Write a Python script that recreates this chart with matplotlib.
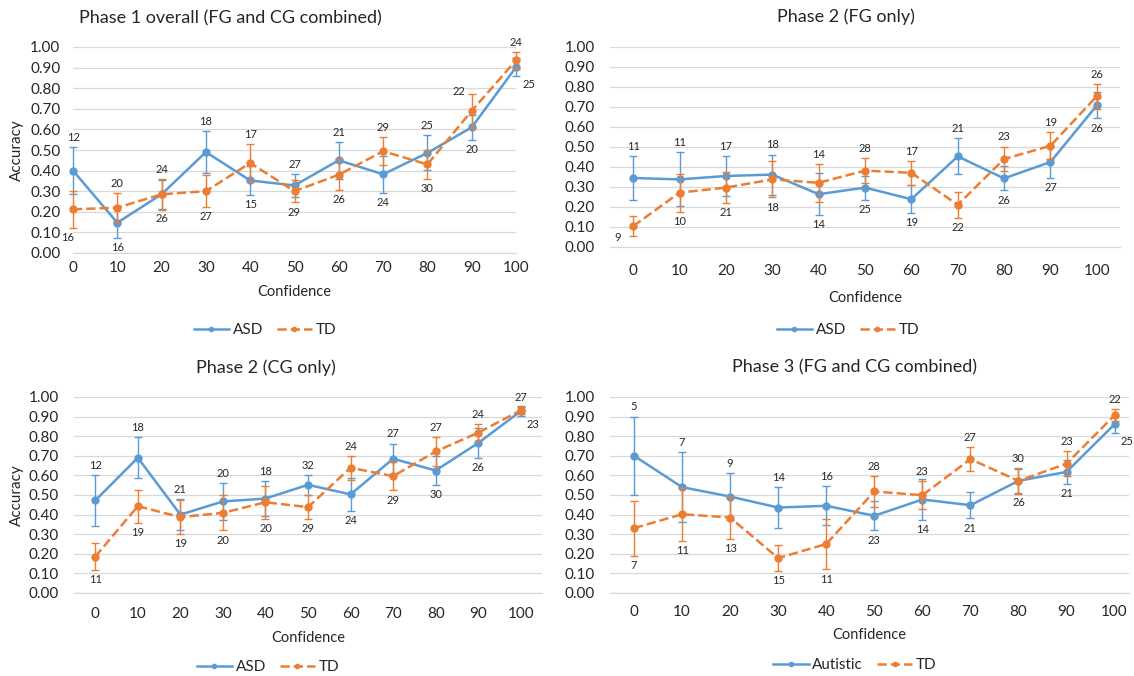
import matplotlib
matplotlib.use("Agg")
import matplotlib.pyplot as plt
from matplotlib.lines import Line2D

plt.rcParams['font.family'] = ['Lato', 'DejaVu Sans']

confidence = [0, 10, 20, 30, 40, 50, 60, 70, 80, 90, 100]
xtick_labels = ["0", "10", "20", "30", "40", "50", "60", "70", "80", "90", "100"]

# Panel 1: Phase 1 overall
p1_asd = [0.40, 0.147, 0.285, 0.49, 0.352, 0.328, 0.45, 0.382, 0.486, 0.61, 0.902]
p1_asd_err = [0.115, 0.075, 0.07, 0.10, 0.07, 0.055, 0.09, 0.09, 0.085, 0.06, 0.045]
p1_asd_n = ["12", "16", "26", "18", "15", "27", "21", "24", "25", "20", "25"]
p1_td = [0.212, 0.22, 0.285, 0.30, 0.437, 0.30, 0.38, 0.494, 0.43, 0.69, 0.935]
p1_td_err = [0.09, 0.07, 0.075, 0.077, 0.09, 0.054, 0.075, 0.068, 0.07, 0.082, 0.04]
p1_td_n = ["16", "20", "24", "27", "17", "29", "26", "29", "30", "22", "24"]

# Panel 2: Phase 2 FG only
p2_asd = [0.345, 0.338, 0.355, 0.362, 0.264, 0.297, 0.239, 0.453, 0.343, 0.425, 0.708]
p2_asd_err = [0.11, 0.135, 0.10, 0.10, 0.105, 0.06, 0.07, 0.09, 0.06, 0.08, 0.065]
p2_asd_n = ["11", "11", "17", "18", "14", "25", "19", "21", "26", "27", "26"]
p2_td = [0.104, 0.272, 0.297, 0.338, 0.321, 0.382, 0.371, 0.211, 0.44, 0.506, 0.754]
p2_td_err = [0.05, 0.095, 0.078, 0.09, 0.095, 0.063, 0.06, 0.064, 0.062, 0.068, 0.062]
p2_td_n = ["9", "10", "21", "18", "14", "28", "17", "22", "23", "19", "26"]

# Panel 3: Phase 2 CG only
p3_asd = [0.472, 0.69, 0.40, 0.467, 0.482, 0.552, 0.503, 0.685, 0.625, 0.765, 0.928]
p3_asd_err = [0.128, 0.105, 0.08, 0.095, 0.09, 0.05, 0.085, 0.077, 0.075, 0.077, 0.025]
p3_asd_n = ["12", "18", "21", "20", "18", "32", "24", "27", "30", "26", "23"]
p3_td = [0.186, 0.443, 0.387, 0.409, 0.463, 0.438, 0.639, 0.596, 0.722, 0.818, 0.932]
p3_td_err = [0.07, 0.085, 0.085, 0.09, 0.085, 0.06, 0.06, 0.073, 0.075, 0.042, 0.017]
p3_td_n = ["11", "19", "19", "20", "20", "29", "24", "29", "27", "24", "27"]

# Panel 4: Phase 3 overall
p4_aut = [0.70, 0.54, 0.492, 0.436, 0.445, 0.394, 0.477, 0.448, 0.572, 0.618, 0.861]
p4_aut_err = [0.20, 0.177, 0.12, 0.105, 0.10, 0.075, 0.105, 0.067, 0.06, 0.063, 0.043]
p4_aut_n = ["5", "7", "9", "14", "16", "23", "14", "21", "26", "21", "25"]
p4_td = [0.331, 0.402, 0.385, 0.178, 0.25, 0.518, 0.499, 0.683, 0.572, 0.66, 0.907]
p4_td_err = [0.14, 0.135, 0.11, 0.066, 0.13, 0.078, 0.07, 0.06, 0.066, 0.062, 0.03]
p4_td_n = ["7", "11", "13", "15", "11", "28", "23", "27", "30", "23", "22"]

BLUE = "#5B9BD5"
ORANGE = "#ED7D31"
GRID = "#D9D9D9"
TXT = "#262626"

W, H = 1134, 676
fig = plt.figure(figsize=(W / 100, H / 100), dpi=100)


def fx(px):
    return px / W


def fy(py):
    return 1 - py / H


OFFS = {
    'a': (0, 7, 1), 'b': (0, -7, -1), 'r': (9, -6, -1),
    'l': (-4, -7, -1), 'L': (-11, -1, -1), 'al': (-9, 2, 1),
}


def panel(rect, xlim, title, title_xy, names, series, errs, counts, places,
          xlab_y, legend_xy, tick_pad, ypad, ylabel=False):
    l, r, t, b = rect
    ax = fig.add_axes([fx(l), fy(b), fx(r - l), (b - t) / H])
    ax.set_xlim(*xlim)
    ax.set_ylim(0, 1.0)
    ax.set_yticks([i / 10 for i in range(11)])
    ax.set_yticklabels([f"{i / 10:.2f}" for i in range(11)], fontsize=11, color=TXT)
    ax.set_xticks(confidence)
    ax.set_xticklabels(xtick_labels, fontsize=11, color=TXT)
    ax.tick_params(axis='both', length=0)
    ax.tick_params(axis='x', pad=tick_pad)
    ax.tick_params(axis='y', pad=ypad)
    ax.grid(axis='y', color=GRID, linewidth=0.9)
    ax.set_axisbelow(True)
    for s in ['top', 'right', 'left']:
        ax.spines[s].set_visible(False)
    ax.spines['bottom'].set_color(GRID)
    ax.spines['bottom'].set_linewidth(0.9)
    colors = [BLUE, ORANGE]
    styles = ['-', '--']
    handles = []
    for k in range(2):
        ax.errorbar(confidence, series[k], yerr=errs[k], color=colors[k],
                    linestyle=styles[k], linewidth=1.8, marker='o', markersize=5,
                    ecolor=colors[k], elinewidth=1.0, capsize=3, capthick=1.0,
                    zorder=3 + k, clip_on=False)
        for i, (xv, yv, ev, n) in enumerate(zip(confidence, series[k], errs[k], counts[k])):
            dx, dy, sgn = OFFS[places[k][i]]
            yend = yv + sgn * ev
            ax.annotate(n, (xv, yend), xytext=(dx, dy), textcoords='offset points',
                        ha='center', va='center', fontsize=8, color=TXT,
                        annotation_clip=False, zorder=6)
        handles.append(Line2D([0], [0], color=colors[k], linestyle=styles[k],
                              linewidth=1.8, marker='o', markersize=3))
    fig.text(fx(title_xy[0]), fy(title_xy[1]), title, ha='center', va='center',
             fontsize=13, color=TXT)
    fig.text(fx((l + r) / 2), fy(xlab_y), "Confidence", ha='center', va='center',
             fontsize=10.5, color=TXT)
    if ylabel:
        fig.text(fx(17), fy((t + b) / 2), "Accuracy", ha='center', va='center',
                 rotation=90, fontsize=11, color=TXT)
    fig.legend(handles, names, loc='center', bbox_to_anchor=(fx(legend_xy[0]), fy(legend_xy[1])),
               ncol=2, frameon=False, fontsize=11, handlelength=2.3, columnspacing=0.9,
               handletextpad=0.25, labelcolor=TXT)
    return ax


p1_places = [['a', 'b', 'b', 'a', 'b', 'a', 'a', 'b', 'a', 'b', 'r'],
             ['l', 'a', 'a', 'b', 'a', 'b', 'b', 'a', 'b', 'al', 'a']]
p2_places = [['a', 'a', 'a', 'a', 'b', 'b', 'b', 'a', 'b', 'b', 'b'],
             ['L', 'b', 'b', 'b', 'a', 'a', 'a', 'b', 'a', 'a', 'a']]
p3_places = [['a', 'a', 'a', 'a', 'a', 'a', 'b', 'a', 'b', 'b', 'r'],
             ['b', 'b', 'b', 'b', 'b', 'b', 'a', 'b', 'a', 'a', 'a']]
p4_places = [['a', 'a', 'a', 'a', 'a', 'b', 'b', 'b', 'b', 'b', 'r'],
             ['b', 'b', 'b', 'b', 'b', 'a', 'a', 'a', 'a', 'a', 'a']]

panel((73, 516, 47, 253), (0, 100), "Phase 1 overall (FG and CG combined)", (230, 18),
      ["ASD", "TD"], [p1_asd, p1_td], [p1_asd_err, p1_td_err], [p1_asd_n, p1_td_n],
      p1_places, 292, (265, 330), 6, 9, ylabel=True)
panel((610, 1120, 47, 247), (-5, 105), "Phase 2 (FG only)", (846, 17),
      ["ASD", "TD"], [p2_asd, p2_td], [p2_asd_err, p2_td_err], [p2_asd_n, p2_td_n],
      p2_places, 298, (848, 330), 12, 11)
panel((74, 542, 397, 593), (-5, 105), "Phase 2 (CG only)", (266, 368),
      ["ASD", "TD"], [p3_asd, p3_td], [p3_asd_err, p3_td_err], [p3_asd_n, p3_td_n],
      p3_places, 638, (268, 667), 10, 11, ylabel=True)
panel((610, 1129, 397, 593), (-5, 103), "Phase 3 (FG and CG combined)", (855, 367),
      ["Autistic", "TD"], [p4_aut, p4_td], [p4_aut_err, p4_td_err], [p4_aut_n, p4_td_n],
      p4_places, 635, (855, 665), 9, 11)

fig.savefig("out.png", dpi=100)
